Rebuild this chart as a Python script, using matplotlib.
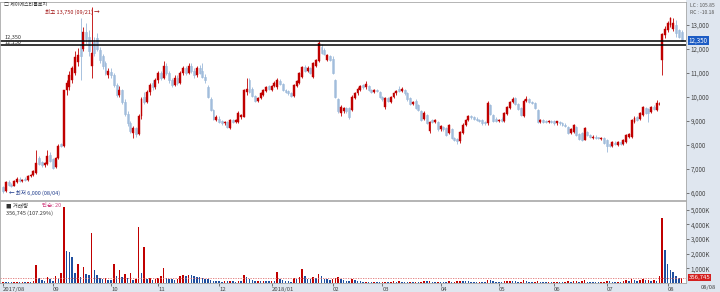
import matplotlib
matplotlib.use('Agg')
import matplotlib.pyplot as plt
from matplotlib.patches import Rectangle

plt.rcParams['font.family'] = ['Noto Sans CJK KR', 'DejaVu Sans']

# month labels and the candle index where each month starts
month_labels = ['2017/08', '09', '10', '11', '12', '2018/01', '02', '03', '04', '05', '06', '07', '08']
month_starts = [0, 18, 39, 56, 78, 97, 119, 137, 158, 179, 199, 218, 240]

opens = [
    6250, 6100, 6450, 6350, 6300, 6450, 6600, 6500, 6600, 6550, 6700, 6750, 6850, 7450, 7300, 7150, 7200, 7600,
    7400, 7100, 7450, 8050, 7950, 10300, 10400, 10700, 11000, 11450, 12200, 12000, 12700, 12500, 11300, 12300, 12450, 11950, 11700, 11400, 10900,
    11050, 10900, 10500, 10100, 10300, 9800, 9300, 8900, 8500, 8700, 8450, 9200, 10000, 9800, 10200, 10600, 10400,
    10700, 11000, 10800, 11300, 11000, 10700, 10500, 10800, 10600, 11000, 11200, 11000, 11300, 11100, 10900, 11200, 11100, 10850, 10400, 9900, 9450, 9050,
    9100, 9000, 8900, 8950, 8700, 9050, 8950, 8950, 9150, 9170, 10200, 10700, 10350, 10050, 9850, 9950, 10100, 10250, 10450,
    10300, 10450, 10400, 10650, 10550, 10300, 10250, 10150, 10050, 10450, 10600, 10850, 11250, 11100, 11200, 10850, 11300, 11500, 12100, 11950, 11550, 11700,
    11600, 10700, 9900, 9350, 9400, 9550, 9550, 9450, 9950, 10150, 10300, 10500, 10400, 10450, 10300, 10200, 10300, 10200,
    10000, 9600, 9950, 9800, 10000, 10150, 10350, 10250, 10300, 10150, 9950, 9700, 9850, 9650, 9400, 9100, 9250, 8600, 9050, 8950, 8950,
    8650, 8750, 8700, 8500, 8650, 8300, 8250, 8150, 8500, 8850, 9050, 9200, 9150, 9100, 9050, 9050, 8950, 8900, 9650, 9250, 9100,
    9000, 9100, 9000, 9300, 9550, 9800, 9950, 9700, 9550, 9200, 9850, 9900, 9800, 9750, 9450, 8950, 9050, 9000, 8950, 9000,
    9000, 8900, 8950, 8900, 8850, 8750, 8500, 8550, 8750, 8450, 8500, 8220, 8550, 8400, 8300, 8350, 8320, 8250, 8290,
    8200, 8050, 7950, 8100, 8000, 8130, 8050, 8130, 8350, 8330, 8960, 9170, 9100, 9250, 9550, 9500, 9380, 9600, 9460, 9700,
    11540, 12580, 12800, 13000, 12830, 13000, 12790, 12700,
]
highs = [
    6300, 6500, 6550, 6400, 6550, 6650, 6650, 6600, 6650, 6750, 6800, 6950, 7800, 7550, 7350, 7300, 7800, 7700,
    7450, 7500, 8050, 8100, 10300, 10700, 11100, 11300, 11900, 12050, 13300, 12900, 13100, 12800, 13750, 12500, 12650, 12100, 11800, 11500, 11200,
    11200, 11000, 10600, 10450, 10350, 9900, 9400, 9000, 8800, 8750, 9300, 10000, 10200, 10300, 10600, 10700, 10800,
    11100, 11100, 11500, 11400, 11100, 10800, 10900, 10900, 11100, 11300, 11300, 11400, 11400, 11200, 11300, 11350, 11400, 10950, 10500, 10000, 9500, 9250,
    9200, 9050, 9000, 9000, 9100, 9100, 9100, 9400, 9300, 10350, 10800, 10800, 10400, 10100, 10000, 10200, 10350, 10450, 10500,
    10500, 10650, 10800, 10750, 10600, 10350, 10300, 10200, 10550, 10700, 11050, 11300, 11350, 11300, 11250, 11450, 11600, 12350, 12200, 12050, 11800, 11750,
    11700, 10750, 9950, 9650, 9600, 9600, 9600, 10100, 10200, 10400, 10500, 10550, 10650, 10500, 10350, 10350, 10350, 10250,
    10050, 10000, 10000, 10050, 10200, 10300, 10450, 10400, 10350, 10200, 10000, 9850, 9900, 9700, 9450, 9400, 9300, 9000, 9100, 9100, 9000,
    8850, 8800, 8750, 8880, 8700, 8350, 8300, 8600, 8900, 9100, 9250, 9250, 9200, 9150, 9100, 9100, 9000, 9850, 9700, 9300, 9150,
    9100, 9150, 9380, 9620, 9850, 10000, 10000, 9750, 9600, 9900, 10050, 9950, 9850, 9800, 9500, 9100, 9100, 9050, 9050, 9050,
    9050, 9000, 9000, 8950, 8900, 8800, 8700, 8880, 8800, 8500, 8550, 8750, 8600, 8450, 8400, 8400, 8350, 8350, 8330,
    8250, 8100, 8180, 8150, 8180, 8180, 8250, 8450, 8500, 9100, 9200, 9200, 9380, 9620, 9600, 9550, 9620, 9650, 9880, 9800,
    12650, 12950, 13150, 13350, 13300, 13200, 12850, 12800,
]
lows = [
    6000, 6050, 6300, 6250, 6280, 6400, 6450, 6450, 6500, 6500, 6650, 6700, 6800, 7150, 7100, 7100, 7150, 7300,
    7000, 7050, 7400, 7900, 7900, 10100, 10300, 10600, 10900, 11300, 10700, 11900, 12200, 11700, 10800, 11700, 11900, 11400, 11150, 10900, 10800,
    10800, 10400, 10000, 10000, 9700, 9200, 8800, 8500, 8300, 8350, 8400, 9100, 9700, 9750, 10100, 10300, 10350,
    10600, 10700, 10750, 10900, 10600, 10400, 10450, 10500, 10550, 10900, 10900, 10950, 11000, 10800, 10850, 10950, 10800, 10600, 9950, 9400, 9050, 9000,
    8900, 8850, 8850, 8700, 8650, 8900, 8900, 8900, 9100, 9150, 10100, 10150, 10000, 9800, 9800, 9900, 10050, 10200, 10300,
    10250, 10400, 10350, 10500, 10250, 10150, 10100, 10000, 10000, 10400, 10550, 10800, 11050, 11050, 10950, 10800, 11250, 11450, 11800, 11750, 11500, 11500,
    10950, 9950, 9350, 9200, 9350, 9350, 9100, 9400, 9900, 10100, 10250, 10350, 10350, 10250, 10150, 10150, 10200, 9950,
    9850, 9500, 9800, 9750, 9950, 10100, 10200, 10200, 10100, 9850, 9650, 9650, 9500, 9400, 9000, 9050, 8880, 8500, 8900, 8900, 8600,
    8600, 8600, 8380, 8450, 8250, 8150, 8050, 8100, 8450, 8800, 9000, 9100, 9050, 9000, 8950, 8850, 8850, 8850, 9250, 8950, 8950,
    8950, 8950, 8950, 9250, 9500, 9750, 9650, 9450, 9200, 9150, 9800, 9750, 9700, 9500, 8900, 8900, 8900, 8900, 8900, 8900,
    8850, 8850, 8850, 8800, 8750, 8450, 8450, 8500, 8380, 8200, 8180, 8200, 8380, 8300, 8250, 8250, 8250, 8200, 8050,
    7710, 7900, 7900, 8000, 7950, 8000, 8000, 8100, 8300, 8300, 8900, 9000, 9050, 9200, 9300, 8960, 9350, 9450, 9400, 9650,
    10920, 12450, 12700, 12900, 12750, 12500, 12450, 12350,
]
closes = [
    6100, 6450, 6350, 6300, 6500, 6600, 6500, 6550, 6550, 6700, 6750, 6900, 7250, 7200, 7150, 7250, 7550, 7350,
    7050, 7450, 7950, 7950, 10300, 10600, 10900, 11200, 11650, 11750, 11700, 12700, 12400, 11900, 11850, 11850, 12000, 11550, 11300, 11000, 11100,
    10900, 10500, 10100, 10300, 9800, 9300, 8900, 8600, 8700, 8450, 9200, 9900, 9800, 10200, 10500, 10400, 10700,
    11000, 10800, 11300, 11000, 10700, 10500, 10800, 10600, 11000, 11200, 11000, 11300, 11100, 10900, 11200, 11000, 10850, 10700, 10000, 9450, 9100, 9150,
    8950, 8900, 8950, 8750, 9050, 8950, 9050, 9330, 9250, 10300, 10350, 10200, 10050, 9850, 9950, 10150, 10300, 10400, 10350,
    10450, 10600, 10700, 10550, 10300, 10200, 10150, 10050, 10500, 10650, 11000, 11250, 11100, 11200, 11000, 11400, 11550, 12250, 11850, 11800, 11750, 11550,
    11000, 10000, 9400, 9600, 9550, 9400, 9150, 10000, 10150, 10350, 10450, 10400, 10550, 10300, 10200, 10300, 10250, 9980,
    9900, 9950, 9850, 10000, 10150, 10250, 10250, 10350, 10150, 9900, 9700, 9800, 9550, 9450, 9050, 9330, 8920, 8950, 8950, 9050, 8650,
    8800, 8650, 8420, 8830, 8300, 8200, 8150, 8550, 8850, 9050, 9200, 9150, 9100, 9050, 8980, 8900, 8900, 9750, 9300, 9000, 9000,
    9050, 9000, 9330, 9580, 9800, 9900, 9700, 9480, 9250, 9850, 9900, 9800, 9750, 9550, 8950, 9050, 8950, 8950, 9000, 8950,
    8900, 8980, 8900, 8850, 8800, 8500, 8650, 8830, 8420, 8250, 8220, 8700, 8420, 8330, 8350, 8290, 8280, 8300, 8080,
    7950, 7950, 8130, 8050, 8130, 8050, 8210, 8420, 8450, 9040, 9120, 9040, 9330, 9580, 9350, 9330, 9580, 9500, 9750, 9720,
    12620, 12830, 13080, 13290, 13080, 12660, 12500, 12350,
]
# volume in thousands of shares
vol_k = [
    80, 60, 50, 40, 70, 90, 50, 60, 50, 100, 80, 150, 1200, 350, 200, 150, 400, 250,
    150, 500, 300, 680, 5170, 2180, 2100, 1770, 680, 1290, 400, 1090, 610, 540, 3400, 880, 540, 340, 300, 340, 200,
    180, 1290, 480, 880, 400, 610, 350, 650, 200, 250, 3810, 680, 2450, 300, 320, 200, 250,
    340, 500, 1020, 340, 300, 270, 200, 300, 450, 540, 480, 560, 520, 470, 430, 390, 350, 300, 260, 200, 150, 130,
    120, 100, 130, 110, 150, 120, 100, 140, 130, 540, 380, 300, 200, 160, 170, 140, 160, 150, 120,
    140, 120, 750, 300, 200, 150, 120, 100, 350, 300, 400, 950, 500, 300, 250, 400, 350, 620, 450, 300, 250, 200,
    300, 350, 420, 300, 200, 150, 140, 250, 180, 130, 110, 90, 100, 80, 70, 90, 70, 60,
    80, 100, 70, 90, 110, 100, 120, 90, 80, 70, 90, 60, 80, 70, 100, 120, 110, 140, 90, 80, 100,
    90, 80, 70, 110, 90, 100, 120, 160, 140, 130, 110, 80, 70, 60, 70, 60, 50, 230, 180, 120, 90,
    80, 70, 110, 140, 160, 130, 110, 90, 100, 200, 150, 90, 70, 80, 130, 100, 70, 60, 65, 55,
    60, 70, 55, 50, 60, 120, 90, 110, 130, 100, 140, 180, 100, 80, 70, 60, 50, 55, 90,
    160, 110, 100, 90, 100, 80, 110, 180, 150, 270, 200, 140, 190, 240, 180, 200, 170, 190, 150, 480,
    4400, 2250, 1290, 880, 750, 480, 332.5, 356.745,
]

UP = '#c00000'
DN_FACE = '#cddcee'
DN_EDGE = '#9ab8d9'
VOL_BLUE = '#1f4f9f'
STRIP = '#dfe6ef'

W, H = 720, 292
fig = plt.figure(figsize=(7.2, 2.92), dpi=100)
fig.patch.set_facecolor('white')
fig.add_artist(Rectangle((686 / W, 0), 34 / W, 1, transform=fig.transFigure,
                         facecolor=STRIP, edgecolor='none', zorder=0))
fig.add_artist(Rectangle((0, 0), 1, 9 / H, transform=fig.transFigure,
                         facecolor=STRIP, edgecolor='none', zorder=0))

ax1 = fig.add_axes([0, 1 - 200 / H, 686 / W, 198 / H])
ax2 = fig.add_axes([0, 9 / H, 686 / W, 82 / H])

xs = list(range(len(closes)))
xlim = (-1.08, 246.6)

# candles
for i in xs:
    o, hi, lo, c = opens[i], highs[i], lows[i], closes[i]
    if c >= o:
        ax1.vlines(i, lo, hi, color=UP, lw=0.6)
        ax1.bar(i, max(c - o, 20), bottom=o, width=0.7, color=UP, edgecolor=UP, lw=0.3)
    else:
        ax1.vlines(i, lo, hi, color=DN_EDGE, lw=0.6)
        ax1.bar(i, max(o - c, 20), bottom=c, width=0.7, color=DN_FACE, edgecolor=DN_EDGE, lw=0.4)

ax1.axhline(12350, color='black', lw=1.1)
ax1.axhline(12150, color='black', lw=1.1)
ax1.text(0.5, 12380, '12,350', fontsize=4, color='#333333', va='bottom')
ax1.text(0.5, 12250, '12,150', fontsize=4, color='#333333', va='center')

ax1.set_xlim(*xlim)
ax1.set_ylim(5708, 13958)
ax1.set_xticks([])
ax1.yaxis.tick_right()
ax1.set_yticks(range(6000, 13001, 1000))
ax1.set_yticklabels([f'{v:,}' for v in range(6000, 13001, 1000)])
ax1.tick_params(axis='y', labelsize=4.5, length=2, pad=1.5, colors='#444444', width=0.5)

ax1.text(0.3, 13880, '□ 제이에스티틀로지', fontsize=3.6, color='#333333', va='center')
ax1.text(15, 13540, '최고 13,750 (09/21) →', fontsize=4.0, color='#a01010', va='center')
ax1.text(2, 6000, '← 최저 6,000 (08/04)', fontsize=4.0, color='#203c8c', va='center')

# current price box
ax1.text(1.004, 12350, '12,350', transform=ax1.get_yaxis_transform(), fontsize=4.5,
         color='white', va='center', ha='left', clip_on=False,
         bbox=dict(facecolor='#1d5cc4', edgecolor='none', pad=0.6))
fig.text(690 / W, 1 - 3 / H, 'LC : 105.85', fontsize=3.6, color='#555555', va='top')
fig.text(690 / W, 1 - 10 / H, 'RC : -10.18', fontsize=3.6, color='#555555', va='top')

# volume, red when it rose from the day before
vcols = [UP]
for i in xs[1:]:
    vcols.append(UP if vol_k[i] > vol_k[i - 1] else VOL_BLUE)
ax2.bar(xs, vol_k, width=0.55, color=vcols, edgecolor='none')
ax2.axhline(vol_k[-1], color='#e07070', lw=0.6, ls=(0, (1.5, 1.5)))
ax2.set_xlim(*xlim)
ax2.set_ylim(0, 5580)
ax2.yaxis.tick_right()
ax2.set_yticks(range(1000, 5001, 1000))
ax2.set_yticklabels([f'{v:,}K' for v in range(1000, 5001, 1000)])
ax2.tick_params(axis='y', labelsize=4.5, length=2, pad=1.5, colors='#444444', width=0.5)
ax2.set_xticks(month_starts)
ax2.set_xticklabels(month_labels)
ax2.tick_params(axis='x', labelsize=4.3, length=2, pad=1, colors='#444444', width=0.5)
for lbl in ax2.get_xticklabels():
    lbl.set_ha('left')

ax2.text(1, 5450, '■ 거래량', fontsize=4.0, color='#333333', va='top')
ax2.text(14, 5450, '단순: 20', fontsize=4.0, color='#d04080', va='top')
ax2.text(1, 4950, '356,745 (107.29%)', fontsize=4.0, color='#333333', va='top')
ax2.text(1.004, vol_k[-1], '356,745', transform=ax2.get_yaxis_transform(), fontsize=4.3,
         color='white', va='center', ha='left', clip_on=False,
         bbox=dict(facecolor='#d42020', edgecolor='none', pad=0.6))
fig.text(701 / W, 1.5 / H, '08/08', fontsize=4.2, color='#444444', va='bottom')

for ax in (ax1, ax2):
    for s in ax.spines.values():
        s.set_color('#a8a8a8')
        s.set_linewidth(0.6)
    ax.set_facecolor('white')

fig.savefig('out.png', dpi=100)
